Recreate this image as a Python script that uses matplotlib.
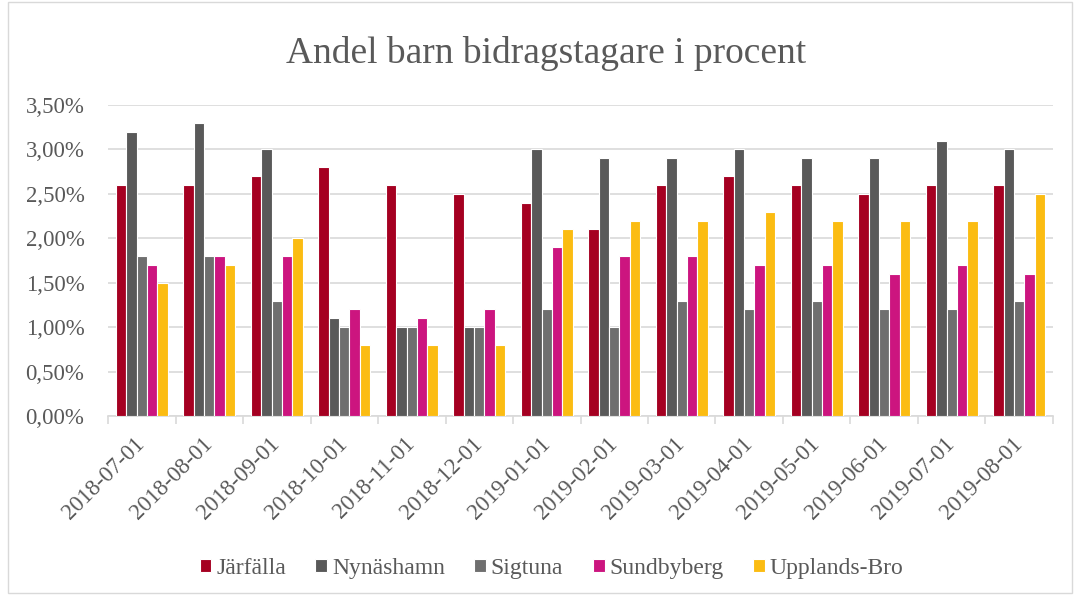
import matplotlib
matplotlib.use("Agg")
import matplotlib.pyplot as plt
import numpy as np
from matplotlib.ticker import FuncFormatter, FixedLocator
from matplotlib.patches import Rectangle

dates = ["2018-07-01", "2018-08-01", "2018-09-01", "2018-10-01", "2018-11-01",
         "2018-12-01", "2019-01-01", "2019-02-01", "2019-03-01", "2019-04-01",
         "2019-05-01", "2019-06-01", "2019-07-01", "2019-08-01"]
series_names = ["Järfälla", "Nynäshamn", "Sigtuna", "Sundbyberg", "Upplands-Bro"]
jarfalla   = [2.6, 2.6, 2.7, 2.8, 2.6, 2.5, 2.4, 2.1, 2.6, 2.7, 2.6, 2.5, 2.6, 2.6]
nynashamn  = [3.2, 3.3, 3.0, 1.1, 1.0, 1.0, 3.0, 2.9, 2.9, 3.0, 2.9, 2.9, 3.1, 3.0]
sigtuna    = [1.8, 1.8, 1.3, 1.0, 1.0, 1.0, 1.2, 1.0, 1.3, 1.2, 1.3, 1.2, 1.2, 1.3]
sundbyberg = [1.7, 1.8, 1.8, 1.2, 1.1, 1.2, 1.9, 1.8, 1.8, 1.7, 1.7, 1.6, 1.7, 1.6]
upplands   = [1.5, 1.7, 2.0, 0.8, 0.8, 0.8, 2.1, 2.2, 2.2, 2.3, 2.2, 2.2, 2.2, 2.5]
colors = ["#A50021", "#595959", "#6F6F6F", "#CC157F", "#FBBC12"]

all_series = [jarfalla, nynashamn, sigtuna, sundbyberg, upplands]

plt.rcParams['font.family'] = ['Liberation Serif', 'DejaVu Serif']

fig = plt.figure(figsize=(10.75, 5.95), dpi=100)
ax = fig.add_axes([0.1005, 0.3008, 0.879, 0.5227])

x = np.arange(len(dates))
w = 0.153
for i, (vals, name, c) in enumerate(zip(all_series, series_names, colors)):
    ax.bar(x + (i - 2) * w, np.array(vals) / 100.0, width=w, color=c,
           edgecolor="white", linewidth=0.8, label=name, zorder=3)

ax.set_xlim(-0.5, len(dates) - 0.5)
ax.set_ylim(0, 0.035)
ax.set_yticks(np.arange(0, 0.0351, 0.005))
ax.yaxis.set_major_formatter(FuncFormatter(lambda v, p: f"{v*100:.2f}%".replace(".", ",")))
ax.grid(axis="y", color="#D9D9D9", linewidth=1.2, zorder=0)
ax.tick_params(axis="y", length=0, labelsize=16.5, labelcolor="#595959", pad=17)

ax.set_xticks(x)
ax.set_xticklabels(dates, rotation=45, ha="right", va="center", rotation_mode="anchor",
                   fontsize=16.5, color="#595959")
ax.tick_params(axis="x", which="major", length=0, pad=18)
ax.xaxis.set_minor_locator(FixedLocator(np.arange(-0.5, len(dates), 1.0)))
ax.tick_params(axis="x", which="minor", length=6, color="#D9D9D9", width=1.2)

for s in ["top", "right", "left"]:
    ax.spines[s].set_visible(False)
ax.spines["bottom"].set_color("#D9D9D9")
ax.spines["bottom"].set_linewidth(1.2)

fig.text(0.508, 0.91, "Andel barn bidragstagare i procent", ha="center", va="center",
         fontsize=27, color="#595959")

handles, labels = ax.get_legend_handles_labels()
leg = fig.legend(handles, labels, loc="center", bbox_to_anchor=(0.513, 0.045), ncol=5,
                 frameon=False, fontsize=17, handlelength=0.5, handleheight=0.5,
                 handletextpad=0.2, columnspacing=1.25, labelcolor="#595959")

fig.patches.append(Rectangle((0.007, 0.003), 0.99, 0.994, transform=fig.transFigure,
                             fill=False, edgecolor="#D9D9D9", linewidth=1.0))

fig.savefig("out.png", dpi=100)
